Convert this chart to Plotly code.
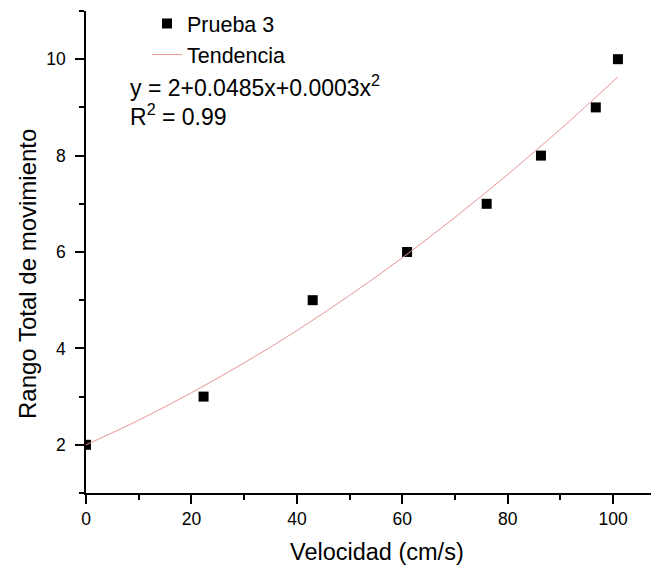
import plotly.graph_objects as go

# Data
vel = [0, 22.3, 43.0, 60.9, 76.0, 86.3, 96.7, 100.9]
rango = [2, 3, 5, 6, 7, 8, 9, 10]

# Trend line points
trend_x = [0, 10, 20, 30, 40, 50, 60, 70, 80, 90, 100.9]
trend_y = [2.0, 2.51, 3.08, 3.70, 4.37, 5.10, 5.88, 6.72, 7.61, 8.55, 9.63]

x_ticks = [0, 20, 40, 60, 80, 100]
y_ticks = [2, 4, 6, 8, 10]

OFF = 8  # page body margin in the browser
W, H = 659 - OFF, 571 - OFF
L, R, T, B = 86 - OFF, 1, 11 - OFF, 78
PW, PH = W - L - R, H - T - B

def px(x):
    # screen pixel x (reference) -> paper x
    return (x - OFF - L) / PW

def py(y):
    # screen pixel y (reference) -> paper y
    return 1 - (y - OFF - T) / PH

FONT = "Arial, Liberation Sans, sans-serif"

fig = go.Figure()
fig.add_trace(go.Scatter(
    x=vel, y=rango, mode="markers", name="Prueba 3",
    marker=dict(symbol="square", size=10, color="black"),
))
fig.add_trace(go.Scatter(
    x=trend_x, y=trend_y, mode="lines", name="Tendencia",
    line=dict(color="#e99393", width=1, shape="spline"),
))

axis_common = dict(
    showline=True, linecolor="black", linewidth=1.5,
    ticks="outside", ticklen=9, tickwidth=1.5, tickcolor="black",
    showgrid=False, zeroline=False, automargin=False,
    tickfont=dict(family=FONT, size=17.5, color="black"),
)

fig.update_xaxes(
    range=[0, 108.5], tickvals=x_ticks,
    minor=dict(dtick=10, tick0=0, ticklen=5, tickwidth=1.5, tickcolor="black", ticks="outside"),
    **axis_common,
)
fig.update_yaxes(
    range=[1, 11], tickvals=y_ticks, ticklabelstandoff=6,
    minor=dict(dtick=1, tick0=0, ticklen=5, tickwidth=1.5, tickcolor="black", ticks="outside"),
    **axis_common,
)

fig.add_annotation(text="Velocidad (cm/s)", xref="paper", yref="paper",
                   x=px(377), y=py(552), xanchor="center", yanchor="middle",
                   showarrow=False, font=dict(family=FONT, size=23.5, color="black"))
fig.add_annotation(text="Rango Total de movimiento", xref="paper", yref="paper",
                   x=px(27), y=py(274), xanchor="center", yanchor="middle",
                   textangle=-90, showarrow=False,
                   font=dict(family=FONT, size=24, color="black"))
fig.add_annotation(text="y = 2+0.0485x+0.0003x<sup>2</sup>", xref="paper", yref="paper",
                   x=px(128), y=py(86), xanchor="left", yanchor="middle",
                   showarrow=False, font=dict(family=FONT, size=23, color="black"))
fig.add_annotation(text="R<sup>2</sup> = 0.99", xref="paper", yref="paper",
                   x=px(128), y=py(115), xanchor="left", yanchor="middle",
                   showarrow=False, font=dict(family=FONT, size=23, color="black"))

fig.update_layout(
    width=W, height=H,
    margin=dict(l=L, r=R, t=T, b=B, autoexpand=False),
    paper_bgcolor="white", plot_bgcolor="white",
    showlegend=True,
    legend=dict(x=px(147), y=py(3), xanchor="left", yanchor="top",
                font=dict(family=FONT, size=21.5, color="black"),
                bgcolor="rgba(0,0,0,0)", borderwidth=0, tracegroupgap=0),
)

fig.write_html("out.html")
